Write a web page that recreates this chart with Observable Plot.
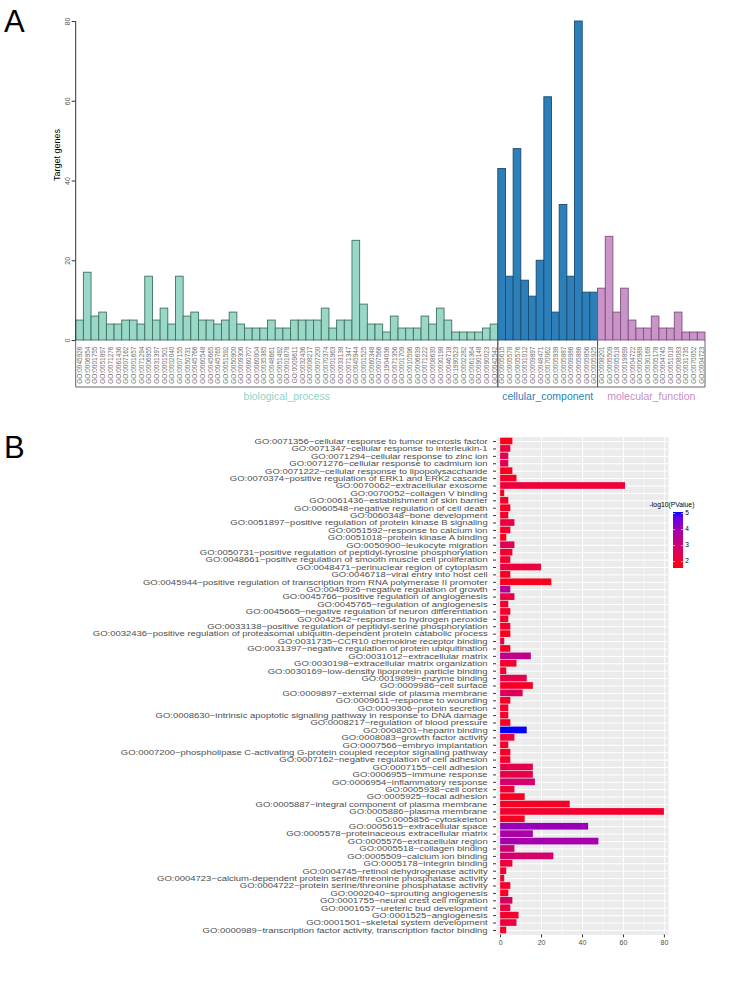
<!DOCTYPE html>
<html><head><meta charset="utf-8">
<script src="https://cdn.jsdelivr.net/npm/d3@7"></script>
<script src="https://cdn.jsdelivr.net/npm/@observablehq/plot@0.6"></script>
<style>
body{margin:0;background:#fff;font-family:"Liberation Sans",Arial,sans-serif;}
#root{position:relative;width:737px;height:999px;overflow:hidden;background:#fff;}
.panel{position:absolute;left:0;}
.panel svg{opacity:0.995;}
.letter{position:absolute;font-size:31px;font-family:"Liberation Sans",Arial,sans-serif;color:#000;line-height:1;z-index:2;}
</style></head><body>
<div id="root">
<div id="pa" class="panel" style="top:0"></div>
<div id="pb" class="panel" style="top:420px"></div>
<div class="letter" style="left:4px;top:6px">A</div>
<div class="letter" style="left:4px;top:432px">B</div>
</div>
<script>
// ---------- Panel A data ----------
const groupNames = ["biological_process", "cellular_component", "molecular_function"];
const bpIds = ["0045926","0006954","0001755","0051897","0071276","0061436","0007162","0001657","0071294","0006955",
  "0031397","0001501","0002040","0007155","0050731","0045766","0060548","0045665","0045765","0051592",
  "0050900","0009306","0060707","0060004","0035385","0048661","0051492","0001878","0009611","0032436",
  "0008217","0007200","0070374","0001963","0033138","0071347","0045944","0001525","0060348","0007566",
  "1904036","0071356","0001709","0010596","0006639","0071222","0008630","0030198","0046718","1990523",
  "0002282","0061364","0090148","0090023","0042542"];
const bpCounts = [5,17,6,7,4,4,5,5,4,16,
  5,8,4,16,6,7,5,5,4,5,
  7,4,3,3,3,5,3,3,5,5,
  5,5,8,3,5,5,25,9,4,4,
  2,6,3,3,3,6,4,8,5,2,
  2,2,2,3,4];
const ccIds = ["0005615","0005578","0005576","0031012","0009897","0048471","0070062","0005938","0005887","0009986","0005886","0005856","0005925"];
const ccCounts = [43,16,48,15,11,20,61,7,34,16,80,12,12];
const mfIds = ["0008201","0005509","0005518","0019899","0004722","0000989","0030169","0005178","0004745","0051018","0008083","0031735","0070052","0004723"];
const mfCounts = [13,26,7,13,5,3,3,6,3,3,7,2,2,2];
const yTicksA = [0, 20, 40, 60, 80];

// ---------- Panel B data ----------
const termIds = ["0071356","0071347","0071294","0071276","0071222","0070374","0070062","0070052","0061436","0060548",
  "0060348","0051897","0051592","0051018","0050900","0050731","0048661","0048471","0046718","0045944",
  "0045926","0045766","0045765","0045665","0042542","0033138","0032436","0031735","0031397","0031012",
  "0030198","0030169","0019899","0009986","0009897","0009611","0009306","0008630","0008217","0008201",
  "0008083","0007566","0007200","0007162","0007155","0006955","0006954","0005938","0005925","0005887",
  "0005886","0005856","0005615","0005578","0005576","0005518","0005509","0005178","0004745","0004723",
  "0004722","0002040","0001755","0001657","0001525","0001501","0000989"];
const termNames = ["cellular response to tumor necrosis factor","cellular response to interleukin-1","cellular response to zinc ion",
  "cellular response to cadmium ion","cellular response to lipopolysaccharide","positive regulation of ERK1 and ERK2 cascade",
  "extracellular exosome","collagen V binding","establishment of skin barrier","negative regulation of cell death",
  "bone development","positive regulation of protein kinase B signaling","response to calcium ion","protein kinase A binding",
  "leukocyte migration","positive regulation of peptidyl-tyrosine phosphorylation","positive regulation of smooth muscle cell proliferation",
  "perinuclear region of cytoplasm","viral entry into host cell","positive regulation of transcription from RNA polymerase II promoter",
  "negative regulation of growth","positive regulation of angiogenesis","regulation of angiogenesis","negative regulation of neuron differentiation",
  "response to hydrogen peroxide","positive regulation of peptidyl-serine phosphorylation",
  "positive regulation of proteasomal ubiquitin-dependent protein catabolic process","CCR10 chemokine receptor binding",
  "negative regulation of protein ubiquitination","extracellular matrix","extracellular matrix organization",
  "low-density lipoprotein particle binding","enzyme binding","cell surface","external side of plasma membrane",
  "response to wounding","protein secretion","intrinsic apoptotic signaling pathway in response to DNA damage",
  "regulation of blood pressure","heparin binding","growth factor activity","embryo implantation",
  "phospholipase C-activating G-protein coupled receptor signaling pathway","negative regulation of cell adhesion",
  "cell adhesion","immune response","inflammatory response","cell cortex","focal adhesion",
  "integral component of plasma membrane","plasma membrane","cytoskeleton","extracellular space",
  "proteinaceous extracellular matrix","extracellular region","collagen binding","calcium ion binding","integrin binding",
  "retinol dehydrogenase activity","calcium-dependent protein serine/threonine phosphatase activity",
  "protein serine/threonine phosphatase activity","sprouting angiogenesis","neural crest cell migration",
  "ureteric bud development","angiogenesis","skeletal system development","transcription factor activity, transcription factor binding"];
const termCounts = [6,5,4,4,6,8,61,2,4,5,
  4,7,5,3,7,6,5,20,5,25,
  5,7,4,5,4,5,5,2,5,15,
  8,3,13,16,11,5,4,4,5,13,
  7,4,5,5,16,16,17,7,12,34,
  80,12,43,16,48,7,26,6,3,2,
  5,4,6,5,9,8,3];
const termLogP = [1.8,2.2,2.5,2.5,1.8,1.9,2.2,1.8,1.9,1.9,
  2.0,2.3,2.0,1.8,2.6,2.0,2.0,2.2,1.9,1.8,
  3.6,2.3,2.0,2.0,2.0,2.0,1.8,2.3,1.9,3.4,
  2.0,2.0,2.4,1.9,2.7,1.9,2.0,2.0,1.9,5.1,
  2.2,2.0,1.9,2.0,2.4,2.4,2.9,2.1,1.9,1.9,
  2.0,1.9,4.1,3.8,3.9,3.0,2.9,2.2,2.0,2.0,
  2.0,1.9,2.8,2.3,2.0,2.2,2.0];
const xTicksB = [0, 20, 40, 60, 80];
const legendTicks = [2, 3, 4, 5];

const FONT = "Liberation Sans, Arial, sans-serif";

// ---------- Panel A ----------
const barsA = [];
[[bpIds, bpCounts], [ccIds, ccCounts], [mfIds, mfCounts]].forEach(([ids, counts], g) => {
  ids.forEach((id, i) => barsA.push({idx: barsA.length, id: "GO:" + id, count: counts[i], group: g}));
});
const fillsA = ["#99D8C9", "#2C7FB8", "#C994C7"];
const strokesA = ["#41705F", "#1B4B73", "#7E507C"];
const textColsA = ["#92D4C3", "#2C7FB8", "#C58FC3"];

const plotA = Plot.plot({
  width: 737, height: 412,
  marginLeft: 75.7, marginRight: 32, marginTop: 21, marginBottom: 72,
  style: {fontFamily: FONT, background: "white", overflow: "visible"},
  x: {type: "band", domain: d3.range(barsA.length), padding: 0, round: false},
  y: {domain: [0, 80]},
  marks: [
    ...[0, 1, 2].map(g => Plot.barY(barsA.filter(d => d.group === g),
      {x: "idx", y: "count", fill: fillsA[g], stroke: strokesA[g], strokeWidth: 0.9})),
    Plot.axisX({tickRotate: -90, tickSize: 0, tickPadding: 6, fontSize: 6.5, fill: "#6e6e6e",
      tickFormat: i => barsA[i].id, label: null}),
    Plot.axisY({ticks: yTicksA, tickRotate: -90, tickSize: 4, tickPadding: 2, fontSize: 7,
      fill: "#555", stroke: "#333", label: null}),
    Plot.text(["Target genes"], {text: d => d, frameAnchor: "left", dx: -19, rotate: -90, fontSize: 9, fill: "#000"})
  ]
});
document.getElementById("pa").appendChild(plotA);

{
  const sx = plotA.scale("x"), sy = plotA.scale("y");
  const svg = d3.select(plotA);
  const yTop = sy.apply(80), yBase = sy.apply(0);
  const yBr = yBase + 47, yLab = yBase + 57;
  const x0a = sx.apply(0);
  svg.append("line").attr("x1", x0a).attr("x2", x0a).attr("y1", yTop).attr("y2", yBase)
    .attr("stroke", "#333").attr("stroke-width", 1);
  const sizes = [bpIds.length, ccIds.length, mfIds.length];
  let start = 0;
  sizes.forEach((n, g) => {
    const x0 = sx.apply(start), x1 = sx.apply(start + n - 1) + sx.bandwidth;
    svg.append("path").attr("d", `M${x0},${yBase}V${yBr}H${x1}V${yBase}`)
      .attr("fill", "none").attr("stroke", "#555").attr("stroke-width", 0.9);
    svg.append("text").attr("x", (x0 + x1) / 2).attr("y", yLab).attr("text-anchor", "middle")
      .attr("dominant-baseline", "middle").attr("font-size", 10.5).attr("font-family", FONT)
      .attr("fill", textColsA[g]).text(groupNames[g]);
    start += n;
  });
}

// ---------- Panel B ----------
const rowsB = termIds.map((id, i) => ({label: `GO:${id}~${termNames[i]}`, count: termCounts[i], logp: termLogP[i]}));
const mlB = 496, tickSzB = 3, tickPadB = 6;

const plotB = Plot.plot({
  width: 737, height: 579,
  marginLeft: mlB, marginRight: 69, marginTop: 16.6, marginBottom: 64.6,
  style: {fontFamily: FONT, background: "white", overflow: "visible"},
  x: {domain: [-2, 82]},
  y: {domain: rowsB.map(d => d.label), paddingInner: 0.1, paddingOuter: 0.15, round: false},
  color: {type: "linear", domain: [1.6, 5.1], range: ["red", "blue"], interpolate: d3.interpolateLab},
  marks: [
    Plot.frame({fill: "#EBEBEB", stroke: "none"}),
    Plot.gridX({ticks: [10, 30, 50, 70], stroke: "white", strokeOpacity: 1, strokeWidth: 0.5}),
    Plot.gridX({ticks: xTicksB, stroke: "white", strokeOpacity: 1, strokeWidth: 1}),
    Plot.gridY({stroke: "white", strokeOpacity: 1, strokeWidth: 1}),
    Plot.barX(rowsB, {x: "count", y: "label", fill: "logp"}),
    Plot.axisY({tickSize: tickSzB, tickPadding: tickPadB, fontSize: 7.3, fill: "#4D4D4D", stroke: "#333", label: null}),
    Plot.axisX({ticks: xTicksB, tickSize: 3, tickPadding: 2, fontSize: 7, fill: "#4D4D4D", stroke: "#333", label: null})
  ]
});
document.getElementById("pb").appendChild(plotB);

{
  const svg = d3.select(plotB);
  // widen the y tick labels horizontally about their right edge
  const sxText = 1.3, ax = mlB - tickSzB - tickPadB;
  svg.selectAll('g[aria-label="y-axis tick label"]').each(function () {
    const g = d3.select(this);
    const tr = g.attr("transform") || "";
    g.attr("transform", `translate(${ax},0) scale(${sxText},1) translate(${-ax},0) ${tr}`);
  });

  const cs = plotB.scale("color");
  const [d0, d1] = cs.domain;
  const lgTop = 92, lgBot = 148, lgX = 673, lgW = 10;
  const grad = svg.append("defs").append("linearGradient").attr("id", "lgB")
    .attr("x1", 0).attr("y1", 1).attr("x2", 0).attr("y2", 0);
  for (let k = 0; k <= 20; k++) {
    grad.append("stop").attr("offset", k / 20).attr("stop-color", cs.apply(d0 + (d1 - d0) * k / 20));
  }
  svg.append("text").attr("x", lgX - 1).attr("y", lgTop - 5).attr("font-size", 6.8)
    .attr("font-family", FONT).attr("fill", "#000").text("-log10(PValue)");
  svg.append("rect").attr("x", lgX).attr("y", lgTop).attr("width", lgW).attr("height", lgBot - lgTop)
    .attr("fill", "url(#lgB)");
  const ly = d3.scaleLinear().domain([d0, d1]).range([lgBot, lgTop]);
  legendTicks.forEach(v => {
    const y = ly(v);
    svg.append("line").attr("x1", lgX).attr("x2", lgX + 2).attr("y1", y).attr("y2", y).attr("stroke", "white").attr("stroke-width", 0.6);
    svg.append("line").attr("x1", lgX + lgW - 2).attr("x2", lgX + lgW).attr("y1", y).attr("y2", y).attr("stroke", "white").attr("stroke-width", 0.6);
    svg.append("text").attr("x", lgX + lgW + 4).attr("y", y).attr("dominant-baseline", "middle")
      .attr("font-size", 6.5).attr("font-family", FONT).attr("fill", "#000").text(v);
  });
}
</script>
</body></html>
